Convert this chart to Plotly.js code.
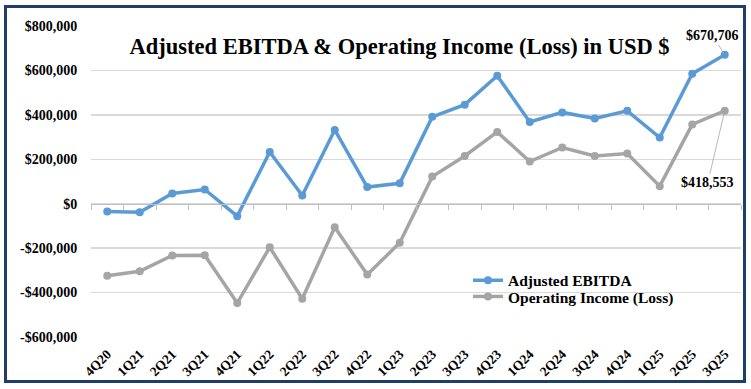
<!DOCTYPE html>
<html>
<head>
<meta charset="utf-8">
<script src="https://cdn.plot.ly/plotly-3.0.1.min.js"></script>
<style>
  html, body { margin: 0; padding: 0; background: #fff; }
  #wrap { position: relative; width: 751px; height: 389px; overflow: hidden; }
  #chart { position: absolute; left: 0; top: 0; width: 751px; height: 389px; }
  #frame { position: absolute; left: 4px; top: 5px; width: 736px; height: 372px;
           border: 3px solid #1F3E6B; pointer-events: none; }
</style>
</head>
<body>
<div id="wrap">
  <div id="chart"></div>
  <div id="frame"></div>
</div>
<script>
// ---- data ----
const quarters = ["4Q20","1Q21","2Q21","3Q21","4Q21","1Q22","2Q22","3Q22","4Q22",
                  "1Q23","2Q23","3Q23","4Q23","1Q24","2Q24","3Q24","4Q24","1Q25","2Q25","3Q25"];
const adjustedEbitda = [-35000,-38000,46000,64000,-56000,233000,37000,332000,75000,
                        92000,391000,446000,576000,368000,411000,384000,418000,298000,585000,670706];
const operatingIncome = [-324000,-304000,-233000,-232000,-447000,-196000,-428000,-106000,-319000,
                         -176000,122000,215000,323000,190000,253000,215000,226000,79000,357000,418553];
const yTickVals = [-600000,-400000,-200000,0,200000,400000,600000,800000];
const yTickText = ["-$600,000","-$400,000","-$200,000","$0","$200,000","$400,000","$600,000","$800,000"];
const seriesNames = ["Adjusted EBITDA","Operating Income (Loss)"];
const lastLabels = ["$670,706","$418,553"];

const serif = "'Liberation Serif', 'Times New Roman', serif";
const blue = "#5B9BD5", gray = "#A5A5A5";
const n = quarters.length;

const traces = [
  { x: quarters, y: adjustedEbitda, name: "<b>" + seriesNames[0] + "</b>", type: "scatter", mode: "lines+markers",
    line: { color: blue, width: 3.5 }, marker: { color: blue, size: 8 }, legend: "legend" },
  { x: quarters, y: operatingIncome, name: "<b>" + seriesNames[1] + "</b>", type: "scatter", mode: "lines+markers",
    line: { color: gray, width: 3.5 }, marker: { color: gray, size: 8 }, legend: "legend2" },
  // invisible carrier for the category axis drawn at y = 0
  { x: quarters, y: adjustedEbitda, xaxis: "x2", yaxis: "y", mode: "markers",
    marker: { opacity: 0 }, showlegend: false, hoverinfo: "skip" }
];

const layout = {
  width: 751, height: 389,
  margin: { l: 91, r: 10, t: 26, b: 52 },
  paper_bgcolor: "#ffffff", plot_bgcolor: "#ffffff",
  font: { family: serif, color: "#000000" },
  title: { text: "<b>Adjusted EBITDA &amp; Operating Income (Loss) in USD $</b>",
           font: { family: serif, size: 22.5, color: "#000000" },
           x: 0.532, xanchor: "center", xref: "container",
           y: 0.882, yanchor: "middle", yref: "container" },
  xaxis: { type: "category", categoryarray: quarters, range: [-0.5, n - 0.5],
           showgrid: false, zeroline: false, showline: false,
           ticks: "outside", ticklen: 3, tickcolor: "rgba(0,0,0,0)",
           tickangle: -45, tickfont: { family: serif, size: 13.5, color: "#000", weight: "bold" } },
  xaxis2: { type: "category", categoryarray: quarters, range: [-0.5, n - 0.5],
            overlaying: "x", anchor: "free", position: 600000 / 1400000, side: "bottom",
            showgrid: false, zeroline: false, showline: true, linecolor: "#BFBFBF", linewidth: 1,
            ticks: "outside", ticklen: 5, tickcolor: "#BFBFBF", tickson: "boundaries",
            showticklabels: false },
  yaxis: { range: [-600000, 800000], tickvals: yTickVals, ticktext: yTickText,
           showgrid: true, gridcolor: "#D9D9D9", gridwidth: 1.5, zeroline: false, showline: false,
           ticks: "outside", ticklen: 10, tickcolor: "rgba(0,0,0,0)",
           tickfont: { family: serif, size: 14, color: "#000", weight: "bold" } },
  legend: { x: 0.58, y: 0.181, xanchor: "left", yanchor: "middle", bgcolor: "rgba(0,0,0,0)",
            font: { family: serif, size: 15.5, color: "#000" },
            itemwidth: 30, tracegroupgap: 0 },
  legend2: { x: 0.58, y: 0.129, xanchor: "left", yanchor: "middle", bgcolor: "rgba(0,0,0,0)",
             font: { family: serif, size: 15.5, color: "#000" },
             itemwidth: 30, tracegroupgap: 0 },
  annotations: [
    { x: quarters[n - 1], y: adjustedEbitda[n - 1], text: "<b>" + lastLabels[0] + "</b>",
      showarrow: true, arrowhead: 0, arrowwidth: 0.8, arrowcolor: "#A6A6A6",
      ax: -12, ay: -19, standoff: 2, font: { family: serif, size: 14, color: "#000" } },
    { x: quarters[n - 1], y: operatingIncome[n - 1], text: "<b>" + lastLabels[1] + "</b>",
      showarrow: true, arrowhead: 0, arrowwidth: 0.8, arrowcolor: "#A6A6A6",
      ax: -17, ay: 72, standoff: 2, font: { family: serif, size: 14, color: "#000" } }
  ],
  showlegend: true
};

Plotly.newPlot("chart", traces, layout, { displayModeBar: false, staticPlot: true });
</script>
</body>
</html>
